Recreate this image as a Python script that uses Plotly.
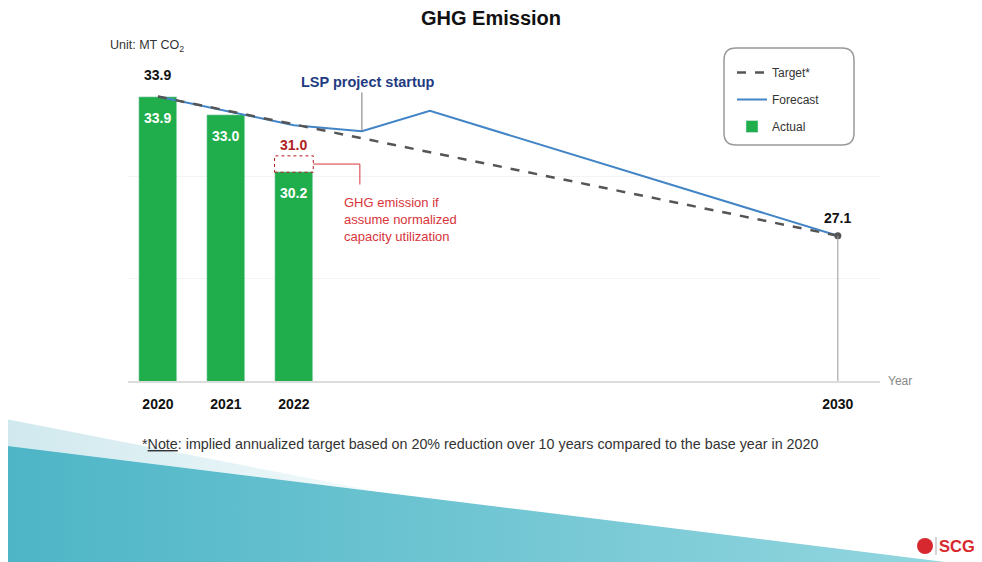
'''
GHG emission chart: actual bars, target and forecast lines
'''

import plotly.graph_objects as go

# data
actual_years = [2020, 2021, 2022]
actual = [33.9, 33.0, 30.2]
forecast_years = [2020, 2021, 2022, 2023, 2024, 2030]
forecast = [33.9, 33.2, 32.5, 32.2, 33.2, 27.1]
target_years = [2020, 2030]
target = [33.9, 27.1]
normalized_year = 2022
normalized_value = 31.0
lsp_year = 2023
tick_years = [2020, 2021, 2022, 2030]

# the page body has an 8px margin, so the figure starts at (8, 8)
OFF = 8
W, H = 982 - OFF, 562 - OFF
NARROW = "Liberation Sans Narrow, Arial Narrow, Liberation Sans, Arial, sans-serif"
GREEN = '#1fae4b'
BLUE = '#4285c6'
GREY = '#555555'
RED = '#d7353b'


def px(x):
    """screen pixel x -> paper"""
    return (x - OFF) / W


def py(y):
    """screen pixel y -> paper"""
    return 1 - (y - OFF) / H


def rounded_rect(x0, y0, x1, y1, r):
    """path for a rounded box given in screen pixels"""
    rx, ry = r / W, r / H
    a, b, c, d = px(x0), py(y0), px(x1), py(y1)
    return (f"M{a + rx},{b} L{c - rx},{b} Q{c},{b} {c},{b - ry} "
            f"L{c},{d + ry} Q{c},{d} {c - rx},{d} L{a + rx},{d} "
            f"Q{a},{d} {a},{d + ry} L{a},{b - ry} Q{a},{b} {a + rx},{b} Z")


fig = go.Figure()

# background decoration at the bottom of the slide
fig.add_trace(go.Scatter(x=[0, 380, 0, 0], y=[418, 492, 445, 418], fill='toself',
                         mode='none', xaxis='x2', yaxis='y2', hoverinfo='skip',
                         showlegend=False,
                         fillgradient=dict(type='horizontal',
                                           colorscale=[[0, '#cfe8ee'], [1, '#f2fafb']])))
fig.add_trace(go.Scatter(x=[0, 945, 0, 0], y=[445, 562, 562, 445], fill='toself',
                         mode='none', xaxis='x2', yaxis='y2', hoverinfo='skip',
                         showlegend=False,
                         fillgradient=dict(type='horizontal',
                                           colorscale=[[0, '#4db5c6'], [1, '#93d6df']])))

fig.add_trace(go.Bar(x=actual_years, y=actual, width=0.57, marker_color=GREEN,
                     name='Actual', legendrank=3, legendgroup='a'))
fig.add_trace(go.Scatter(x=forecast_years, y=forecast, mode='lines',
                         line=dict(color=BLUE, width=2),
                         name='Forecast', legendrank=2, legendgroup='f'))
fig.add_trace(go.Scatter(x=target_years, y=target, mode='lines',
                         line=dict(color=GREY, width=2.5, dash='dash'),
                         name='Target*', legendrank=1, legendgroup='t'))
fig.add_trace(go.Scatter(x=target_years[-1:], y=target[-1:], mode='markers',
                         marker=dict(color=GREY, size=7), showlegend=False))

annotations = []
# value labels inside bars
for yr, v in zip(actual_years, actual):
    annotations.append(dict(x=yr, y=v, text=f"{v:.1f}", showarrow=False,
                            yanchor='top', yshift=-11,
                            font=dict(family=NARROW, size=14, color='white', weight='bold')))
annotations.append(dict(x=actual_years[0], y=actual[0], text=f"{actual[0]:.1f}",
                        showarrow=False, yanchor='bottom', yshift=12,
                        font=dict(family=NARROW, size=14, color='#111', weight='bold')))
annotations.append(dict(x=target_years[-1], y=target[-1], text=f"{target[-1]:.1f}",
                        showarrow=False, yanchor='bottom', yshift=8,
                        font=dict(family=NARROW, size=14, color='#111', weight='bold')))
annotations.append(dict(x=normalized_year, y=normalized_value, text=f"{normalized_value:.1f}",
                        showarrow=False, yanchor='bottom', yshift=1,
                        font=dict(family=NARROW, size=14, color='#b01e23', weight='bold')))
annotations.append(dict(x=2022.71, y=29.2, text="GHG emission if<br>assume normalized<br>capacity utilization",
                        showarrow=False, xanchor='left', yanchor='top', align='left',
                        font=dict(family=NARROW, size=13, color=RED)))
annotations.append(dict(x=lsp_year + 0.09, y=34.6, text="LSP project startup", showarrow=False,
                        yanchor='middle',
                        font=dict(family=NARROW, size=14.5, color='#1f3b82', weight='bold')))

# paper-level texts
annotations += [
    dict(x=px(108), y=py(46), xref='paper', yref='paper', xanchor='left', yanchor='middle',
         text="Unit: MT CO<sub>2</sub>", showarrow=False,
         font=dict(family=NARROW, size=12.5, color='#333')),
    dict(x=px(886), y=py(381), xref='paper', yref='paper', xanchor='left', yanchor='middle',
         text="Year", showarrow=False, font=dict(family=NARROW, size=12, color='#888')),
    dict(x=px(140), y=py(444), xref='paper', yref='paper', xanchor='left', yanchor='middle',
         text="*<u>Note</u>: implied annualized target based on 20% reduction over 10 years "
              "compared to the base year in 2020",
         showarrow=False, font=dict(family=NARROW, size=14.3, color='#333')),
    dict(x=px(937), y=py(546), xref='paper', yref='paper', xanchor='left', yanchor='middle',
         text="<b>SCG</b>", showarrow=False,
         font=dict(family="Liberation Sans, Arial, sans-serif", size=16.5, color='#d7282f')),
]

shapes = [
    dict(type='line', x0=target_years[-1], x1=target_years[-1], y0=20, y1=target[-1],
         line=dict(color='#999', width=1)),
    dict(type='line', x0=lsp_year, x1=lsp_year, y0=forecast[3], y1=34.1,
         line=dict(color='#777', width=1)),
    dict(type='rect', x0=normalized_year - 0.285, x1=normalized_year + 0.285,
         y0=actual[2], y1=normalized_value, line=dict(color='#b01e23', width=1, dash='dot')),
    dict(type='path', path=f"M{normalized_year + 0.285},30.6 L2022.97,30.6 L2022.97,29.6",
         line=dict(color=RED, width=1)),
    dict(type='path', xref='paper', yref='paper', path=rounded_rect(724, 48, 854, 145, 12),
         line=dict(color='#999', width=1.5)),
    # SCG logo emblem and divider
    dict(type='circle', xref='paper', yref='paper', x0=px(917), x1=px(933),
         y0=py(554), y1=py(538), fillcolor='#d7282f', line=dict(width=0)),
    dict(type='line', xref='paper', yref='paper', x0=px(936), x1=px(936),
         y0=py(537), y1=py(555), line=dict(color='#aaa', width=1)),
]

fig.update_layout(
    width=W, height=H,
    margin=dict(l=0, r=0, t=0, b=0),
    paper_bgcolor='white', plot_bgcolor='rgba(0,0,0,0)',
    title=dict(text="GHG Emission", x=0.5 - (OFF / 2) / W, xanchor='center', y=py(18),
               yanchor='middle',
               font=dict(family="Liberation Sans, Arial, sans-serif", size=20,
                         color='#111', weight='bold')),
    xaxis=dict(domain=[px(128), px(880)], range=[2019.56, 2030.62],
               tickvals=tick_years, ticktext=[str(t) for t in tick_years],
               showgrid=False, zeroline=False, showline=True, linecolor='#dcdcdc',
               linewidth=2, ticks='', ticklabelstandoff=9,
               tickfont=dict(family=NARROW, size=14, color='#111', weight='bold')),
    yaxis=dict(domain=[py(381), py(74)], range=[20, 35], dtick=5,
               showticklabels=False, gridcolor='#f3f3f3', zeroline=False, showline=False),
    xaxis2=dict(domain=[0, 1], range=[OFF, 982], visible=False, anchor='y2', fixedrange=True),
    yaxis2=dict(domain=[0, 1], range=[562, OFF], visible=False, anchor='x2', fixedrange=True),
    legend=dict(x=px(732), y=py(58), xanchor='left', yanchor='top',
                bgcolor='rgba(0,0,0,0)', tracegroupgap=8,
                font=dict(family=NARROW, size=12, color='#333')),
    annotations=annotations,
    shapes=shapes,
    bargap=0,
)

fig.write_html("out.html")
